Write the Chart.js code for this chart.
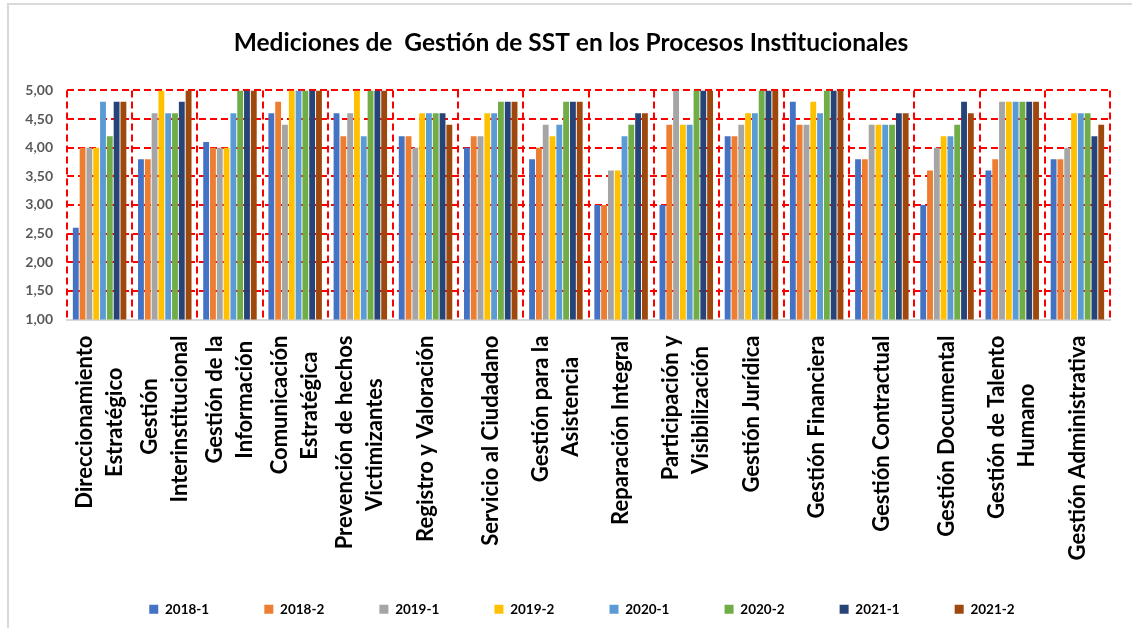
<!DOCTYPE html>
<html>
<head>
<meta charset="utf-8">
<script src="https://cdn.jsdelivr.net/npm/chart.js@4/dist/chart.umd.min.js"></script>
<style>
  html, body { margin: 0; padding: 0; background: #fff; overflow: hidden; }
  #frame { position: absolute; left: 7px; top: 3px; width: 1140px; height: 640px; border: 2px solid #d9d9d9; }
  #chart { position: absolute; left: 0; top: 0; }
</style>
</head>
<body>
<div id="frame"></div>
<canvas id="chart" width="1132" height="628"></canvas>
<script>
// categories (multi-line ones as arrays, like the original wrapped labels)
var categories = [
	["Direccionamiento", "Estratégico"],
	["Gestión", "Interinstitucional"],
	["Gestión de la", "Información"],
	["Comunicación", "Estratégica"],
	["Prevención de hechos", "Victimizantes"],
	"Registro y Valoración",
	"Servicio al Ciudadano",
	["Gestión para la", "Asistencia"],
	"Reparación Integral",
	["Participación y", "Visibilización"],
	"Gestión Jurídica",
	"Gestión Financiera",
	"Gestión Contractual",
	"Gestión Documental",
	["Gestión de Talento", "Humano"],
	"Gestión Administrativa"
];

var periods = ["2018-1", "2018-2", "2019-1", "2019-2", "2020-1", "2020-2", "2021-1", "2021-2"];
var colors = ["#4472c4", "#ed7d31", "#a5a5a5", "#ffc000", "#5b9bd5", "#70ad47", "#264478", "#9e480e"];

var s2018_1 = [2.6, 3.8, 4.1, 4.6, 4.6, 4.2, 4.0, 3.8, 3.0, 3.0, 4.2, 4.8, 3.8, 3.0, 3.6, 3.8];
var s2018_2 = [4.0, 3.8, 4.0, 4.8, 4.2, 4.2, 4.2, 4.0, 3.0, 4.4, 4.2, 4.4, 3.8, 3.6, 3.8, 3.8];
var s2019_1 = [4.0, 4.6, 4.0, 4.4, 4.6, 4.0, 4.2, 4.4, 3.6, 5.0, 4.4, 4.4, 4.4, 4.0, 4.8, 4.0];
var s2019_2 = [4.0, 5.0, 4.0, 5.0, 5.0, 4.6, 4.6, 4.2, 3.6, 4.4, 4.6, 4.8, 4.4, 4.2, 4.8, 4.6];
var s2020_1 = [4.8, 4.6, 4.6, 5.0, 4.2, 4.6, 4.6, 4.4, 4.2, 4.4, 4.6, 4.6, 4.4, 4.2, 4.8, 4.6];
var s2020_2 = [4.2, 4.6, 5.0, 5.0, 5.0, 4.6, 4.8, 4.8, 4.4, 5.0, 5.0, 5.0, 4.4, 4.4, 4.8, 4.6];
var s2021_1 = [4.8, 4.8, 5.0, 5.0, 5.0, 4.6, 4.8, 4.8, 4.6, 5.0, 5.0, 5.0, 4.6, 4.8, 4.8, 4.2];
var s2021_2 = [4.8, 5.0, 5.0, 5.0, 5.0, 4.4, 4.8, 4.8, 4.6, 5.0, 5.0, 5.0, 4.6, 4.6, 4.8, 4.4];

var series = [s2018_1, s2018_2, s2019_1, s2019_2, s2020_1, s2020_2, s2021_1, s2021_2];

var yMin = 1, yMax = 5, yStep = 0.5;

var labelSize = 22;
var labelLine = 30;
var legendSize = 13.5;
var legendPad = 42;
var legendItem = 114; // distance from one legend box to the next

var measure = document.createElement("canvas").getContext("2d");

// centre the shorter line of a wrapped label against the longer one (Excel does this)
function padLines(lines) {
	measure.font = "bold " + labelSize + "px Lato";
	var widths = lines.map(function(t) { return measure.measureText(t).width; });
	var maxW = Math.max.apply(null, widths);
	var sp = measure.measureText(" ").width;
	return lines.map(function(t, i) {
		var n = Math.round((maxW - widths[i]) / 2 / sp);
		return t + " ".repeat(n);
	});
}

function legendLabels(chart) {
	var items = Chart.defaults.plugins.legend.labels.generateLabels(chart);
	measure.font = "bold " + legendSize + "px Lato";
	var sp = measure.measureText(" ").width;
	items.forEach(function(it) {
		var want = legendItem - legendPad - 9 - legendSize / 2;
		var n = Math.max(0, Math.round((want - measure.measureText(it.text).width) / sp));
		it.text = it.text + " ".repeat(n);
	});
	return items;
}

var datasets = periods.map(function(p, i) {
	return {
		label : p,
		data : series[i],
		backgroundColor : colors[i],
		borderColor : colors[i],
		borderWidth : 0,
		barPercentage : 0.86,
		categoryPercentage : 0.835
	};
});

var redGrid = "#ff0000";

new Chart(document.getElementById("chart"), {
	type : "bar",
	data : { labels : categories, datasets : datasets },
	options : {
		responsive : false,
		animation : false,
		layout : { padding : { left : 10, right : 0, top : 0, bottom : 2 } },
		plugins : {
			title : {
				display : true,
				text : "Mediciones de  Gestión de SST en los Procesos Institucionales",
				color : "#000",
				font : { family : "Lato", weight : "bold", size : 24.5 },
				padding : { top : 28, bottom : 33 }
			},
			legend : {
				display : true,
				position : "bottom",
				fullSize : false,
				labels : {
					boxWidth : 9,
					boxHeight : 9,
					padding : legendPad,
					color : "#000",
					font : { family : "Lato", weight : "bold", size : legendSize },
					generateLabels : legendLabels
				}
			},
			tooltip : { enabled : false }
		},
		scales : {
			x : {
				grid : {
					offset : true,
					color : redGrid,
					lineWidth : 2,
					drawTicks : false
				},
				border : { display : true, color : "#d9d9d9", width : 2, dash : [7, 4] },
				ticks : {
					autoSkip : false,
					minRotation : 90,
					maxRotation : 90,
					padding : 16,
					color : "#000",
					labelOffset : -labelLine / 2,
					font : function(ctx) {
						var lab = categories[ctx.index];
						var lh = Array.isArray(lab) ? labelLine : labelLine / 2;
						return { family : "Lato", weight : "bold", size : labelSize, lineHeight : lh / labelSize };
					},
					callback : function(value, index) {
						var lab = categories[index];
						if (Array.isArray(lab)) return padLines(lab);
						return ["", lab];
					}
				},
				afterFit : function(scale) {
					scale.height = 241;
					scale.paddingLeft = 0;
					scale.paddingRight = 0;
				}
			},
			y : {
				min : yMin,
				max : yMax,
				grid : {
					color : function(ctx) { return ctx.tick && ctx.tick.value === yMin ? "rgba(0,0,0,0)" : redGrid; },
					lineWidth : 2,
					drawTicks : false
				},
				border : { display : false, dash : [7, 4] },
				ticks : {
					stepSize : yStep,
					padding : 14,
					color : "#595959",
					font : { family : "Lato", weight : "bold", size : 14 },
					callback : function(v) { return v.toFixed(2).replace(".", ","); }
				},
				afterFit : function(scale) {
					scale.width = 57;
				}
			},
			// empty right-hand margin, keeps the plot ending where the original does
			yRight : {
				position : "right",
				grid : { display : false },
				border : { display : false },
				ticks : { display : false },
				afterFit : function(scale) {
					scale.width = 22;
				}
			}
		}
	}
});
</script>
</body>
</html>
